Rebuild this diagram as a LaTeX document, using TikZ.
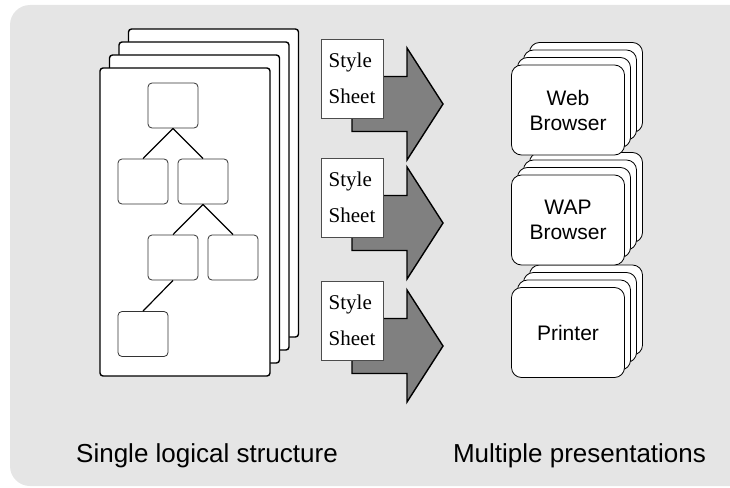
\documentclass[tikz,border=0pt]{standalone}
\usepackage{fontspec}
\setmainfont{Liberation Sans}
\newfontfamily\sheetfont{Liberation Serif}
\usepackage{tikz}

\begin{document}
\begin{tikzpicture}[x=1pt,y=-1pt]
\tikzstyle{every node}+=[inner sep=0pt]
\tikzstyle{page}=[draw=black,fill=white,line width=1.4pt,rounded corners=3pt]
\tikzstyle{leaf}=[draw=black!80,fill=white,line width=0.8pt,rounded corners=4pt,minimum width=50pt,minimum height=45pt]
\tikzstyle{branch}=[black,line width=1.2pt]
\tikzstyle{sheet}=[draw=black!70,fill=white,line width=0.8pt,minimum width=62pt,minimum height=79pt,align=left,font=\sheetfont\fontsize{21}{36}\selectfont]
\tikzstyle{pointer}=[draw=black,fill=black!50,line width=1.4pt]
\tikzstyle{card}=[draw=black,fill=white,line width=0.8pt,rounded corners=10pt,minimum width=113pt,minimum height=90pt,align=center,font=\fontsize{21}{25}\selectfont]
\tikzstyle{caption}=[anchor=base,font=\fontsize{26}{30}\selectfont]
\useasboundingbox (0,0) rectangle (730,487);
\fill [black!10,rounded corners=20pt] (10,5) rectangle (750,486);
% stack of documents
\foreach \i in {3,2,1,0}
  \draw [page] (100+9.5*\i,68-13*\i) rectangle ++(170,308);
% logical tree
\node [leaf] (t1) at (173,105.5) {};
\node [leaf] (t2) at (143,181.5) {};
\node [leaf] (t3) at (203,181.5) {};
\node [leaf] (t4) at (173,257.5) {};
\node [leaf] (t5) at (233,257.5) {};
\node [leaf] (t6) at (143,334) {};
\draw [branch] (t1.south) -- (t2.north);
\draw [branch] (t1.south) -- (t3.north);
\draw [branch] (t3.south) -- (t4.north);
\draw [branch] (t3.south) -- (t5.north);
\draw [branch] (t4.south) -- (t6.north);
% style sheets and arrows
\foreach \t [count=\n] in {104,223,346} {
  \draw [pointer] (352,\t-27.5) -- (407,\t-27.5) -- (407,\t-56) -- (443,\t)
    -- (407,\t+56) -- (407,\t+27.5) -- (352,\t+27.5) -- cycle;
  \node [sheet] (sheet\n) at (352,\t-25.5) {Style\\Sheet};
}
% presentations
\foreach \y in {110,220,332.5}
  \foreach \i in {3,2,1}
    \draw [card] (568+6*\i-56.5,\y-7.5*\i-45) rectangle ++(113,90);
\node [card] (web) at (568,110) {Web\\Browser};
\node [card] (wap) at (568,220) {WAP\\Browser};
\node [card] (printer) at (568,332.5) {Printer};
\node [caption] (single) at (207,462) {Single logical structure};
\node [caption] (multi) at (579.5,462) {Multiple presentations};
\end{tikzpicture}
\end{document}
